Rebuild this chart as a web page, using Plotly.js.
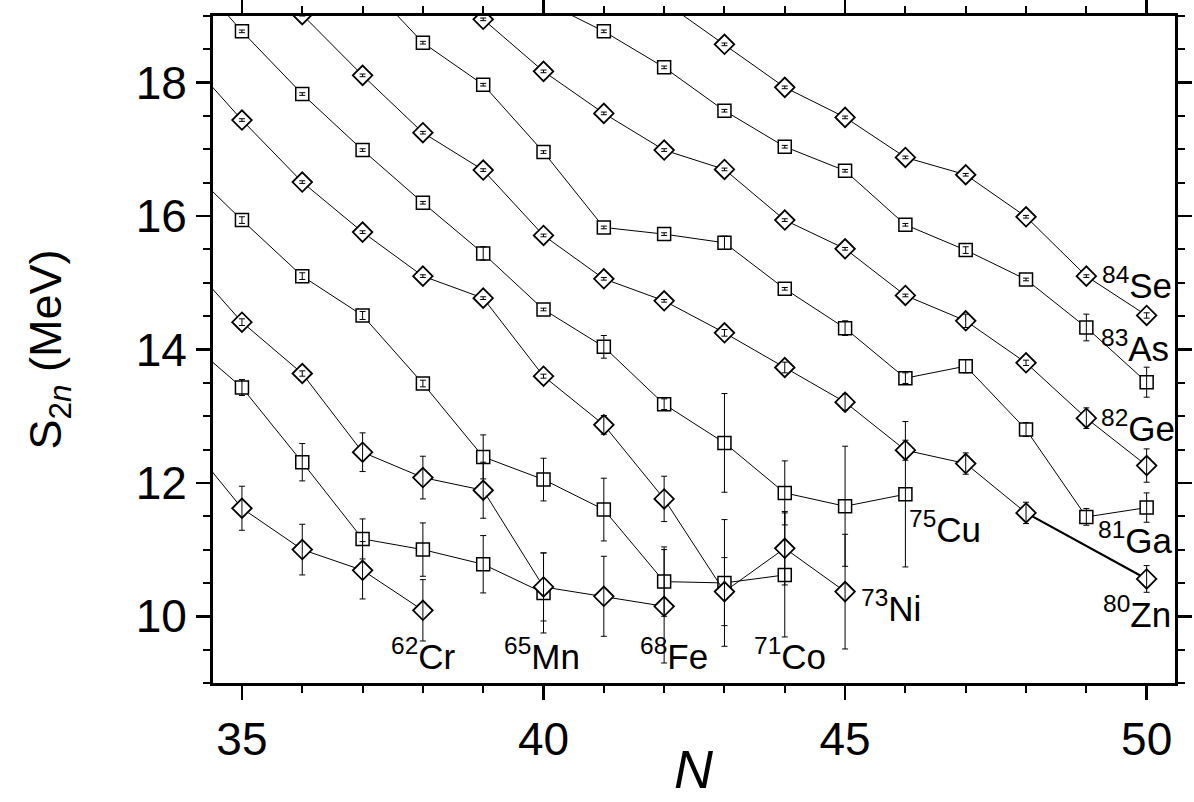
<!DOCTYPE html>
<html><head><meta charset="utf-8">
<script src="https://cdn.plot.ly/plotly-3.0.1.min.js"></script>
<style>html,body{margin:0;padding:0;background:#fff}#chart{width:1194px;height:802px}</style>
</head><body><div id="chart"></div>
<script>
// Two-neutron separation energies S2n (MeV) vs neutron number N, per isotopic chain
const CR_N   = [34, 35, 36, 37, 38];
const CR_S2N = [12.73, 11.62, 11.00, 10.69, 10.09];
const CR_ERR = [0, 0.33, 0.38, 0.43, 0.46];

const MN_N   = [34, 35, 36, 37, 38, 39, 40];
const MN_S2N = [14.21, 13.43, 12.31, 11.16, 11.00, 10.78, 10.35];
const MN_ERR = [0, 0.12, 0.28, 0.30, 0.40, 0.43, 0.60];

const FE_N   = [34, 35, 36, 37, 38, 39, 40, 41, 42];
const FE_S2N = [15.43, 14.41, 13.64, 12.46, 12.08, 11.89, 10.44, 10.30, 10.15];
const FE_ERR = [0, 0.05, 0.04, 0.29, 0.32, 0.42, 0.51, 0.60, 0.85];

const CO_N   = [34, 35, 36, 37, 38, 39, 40, 41, 42, 43, 44];
const CO_S2N = [16.82, 15.94, 15.10, 14.51, 13.49, 12.39, 12.05, 11.60, 10.52, 10.50, 10.62];
const CO_ERR = [0, 0.05, 0.05, 0.06, 0.05, 0.33, 0.32, 0.47, 0.52, 0.95, 0.93];

const NI_N   = [34, 35, 36, 37, 38, 39, 40, 41, 42, 43, 44, 45];
const NI_S2N = [18.45, 17.44, 16.51, 15.76, 15.10, 14.77, 13.60, 12.87, 11.76, 10.37, 11.02, 10.37];
const NI_ERR = [0, 0.02, 0.02, 0.02, 0.02, 0.02, 0.03, 0.14, 0.34, 0.51, 0.55, 0.86];

const CU_N   = [34, 35, 36, 37, 38, 39, 40, 41, 42, 43, 44, 45, 46];
const CU_S2N = [19.80, 18.77, 17.83, 16.99, 16.20, 15.44, 14.60, 14.04, 13.18, 12.60, 11.85, 11.65, 11.83];
const CU_ERR = [0, 0.02, 0.02, 0.02, 0.02, 0.10, 0.02, 0.17, 0.08, 0.74, 0.48, 0.90, 1.09];

const ZN_N   = [35, 36, 37, 38, 39, 40, 41, 42, 43, 44, 45, 46, 47, 48, 50];
const ZN_S2N = [20.00, 19.02, 18.11, 17.25, 16.69, 15.71, 15.06, 14.73, 14.25, 13.73, 13.21, 12.49, 12.29, 11.55, 10.56];
const ZN_ERR = [0, 0.02, 0.02, 0.02, 0.02, 0.02, 0.02, 0.02, 0.05, 0.08, 0.12, 0.15, 0.16, 0.16, 0.20];

const GA_N   = [37, 38, 39, 40, 41, 42, 43, 44, 45, 46, 47, 48, 49, 50];
const GA_S2N = [19.56, 18.60, 17.97, 16.96, 15.83, 15.73, 15.60, 14.91, 14.32, 13.57, 13.75, 12.80, 11.49, 11.63];
const GA_ERR = [0, 0.02, 0.02, 0.02, 0.02, 0.02, 0.10, 0.02, 0.11, 0.08, 0.10, 0.105, 0.125, 0.22];

const GE_N   = [38, 39, 40, 41, 42, 43, 44, 45, 46, 47, 48, 49, 50];
const GE_S2N = [19.80, 18.95, 18.17, 17.54, 16.99, 16.70, 15.94, 15.51, 14.81, 14.43, 13.80, 12.97, 12.26];
const GE_ERR = [0, 0.02, 0.02, 0.02, 0.02, 0.02, 0.02, 0.02, 0.02, 0.10, 0.04, 0.155, 0.25];

const AS_N   = [40, 41, 42, 43, 44, 45, 46, 47, 48, 49, 50];
const AS_S2N = [19.22, 18.77, 18.23, 17.58, 17.04, 16.68, 15.87, 15.49, 15.05, 14.33, 13.51];
const AS_ERR = [0, 0.02, 0.02, 0.02, 0.02, 0.02, 0.02, 0.05, 0.02, 0.20, 0.225];

const SE_N   = [42, 43, 44, 45, 46, 47, 48, 49, 50];
const SE_S2N = [19.21, 18.575, 17.93, 17.48, 16.88, 16.62, 15.99, 15.10, 14.51];
const SE_ERR = [0, 0.02, 0.02, 0.02, 0.02, 0.02, 0.02, 0.02, 0.04];

// Chain-end labels
const LABEL_TEXT = ['<sup>62</sup>Cr','<sup>65</sup>Mn','<sup>68</sup>Fe','<sup>71</sup>Co','<sup>73</sup>Ni','<sup>75</sup>Cu',
                    '<sup>80</sup>Zn','<sup>81</sup>Ga','<sup>82</sup>Ge','<sup>83</sup>As','<sup>84</sup>Se'];
const LABEL_N    = [38.01, 39.97, 42.17, 44.09, 45.76, 46.66, 49.84, 49.81, 49.86, 49.81, 49.84];
const LABEL_S2N  = [9.43, 9.43, 9.43, 9.43, 10.16, 11.34, 10.06, 11.18, 12.86, 14.06, 15.00];

const FONT = 'Liberation Sans, Arial, Helvetica, sans-serif';

const CHAINS = [
  [CR_N, CR_S2N, CR_ERR, 'diamond'],
  [MN_N, MN_S2N, MN_ERR, 'square'],
  [FE_N, FE_S2N, FE_ERR, 'diamond'],
  [CO_N, CO_S2N, CO_ERR, 'square'],
  [NI_N, NI_S2N, NI_ERR, 'diamond'],
  [CU_N, CU_S2N, CU_ERR, 'square'],
  [ZN_N, ZN_S2N, ZN_ERR, 'diamond'],
  [GA_N, GA_S2N, GA_ERR, 'square'],
  [GE_N, GE_S2N, GE_ERR, 'diamond'],
  [AS_N, AS_S2N, AS_ERR, 'square'],
  [SE_N, SE_S2N, SE_ERR, 'diamond']
];

function chain(x, y, symbol) {
  const isDiamond = symbol === 'diamond';
  return {
    x: x, y: y, type: 'scatter', mode: 'lines+markers', showlegend: false,
    line: {color: '#000', width: 1},
    marker: {symbol: symbol, size: isDiamond ? 15 : 13, color: '#fff',
             line: {color: '#000', width: isDiamond ? 1.8 : 1.5}},
    cliponaxis: true
  };
}
// error bars drawn on top of the open markers
function errs(x, y, err) {
  return {
    x: x, y: y, type: 'scatter', mode: 'markers', showlegend: false, hoverinfo: 'skip',
    marker: {size: 1, color: 'rgba(0,0,0,0)'},
    error_y: {type: 'data', array: err, visible: true, color: '#000', thickness: 1, width: 3},
    cliponaxis: true
  };
}

const data = [
  // thicker connecting segment of the Zn chain between its last two points
  {x: ZN_N.slice(-2), y: ZN_S2N.slice(-2), type: 'scatter', mode: 'lines', showlegend: false,
   line: {color: '#000', width: 2.2}, hoverinfo: 'skip'}
].concat(CHAINS.map(c => chain(c[0], c[1], c[3])))
 .concat(CHAINS.map(c => errs(c[0], c[1], c[2])));

const annotations = LABEL_TEXT.map((t, i) => ({
  x: LABEL_N[i], y: LABEL_S2N[i], xref: 'x', yref: 'y', text: t, showarrow: false,
  xanchor: 'center', yanchor: 'middle', font: {family: FONT, size: 35, color: '#000'}
}));
// x-axis title, placed as a paper annotation so it can sit low in the bottom margin
annotations.push({
  x: 0.5, y: -0.177, xref: 'paper', yref: 'paper', text: '<i>N</i>', showarrow: false,
  xanchor: 'center', yanchor: 'bottom', font: {family: FONT, size: 54, color: '#000'}
});

const axisCommon = {
  showgrid: false, zeroline: false, showline: true, linecolor: '#000', linewidth: 3,
  mirror: 'ticks', ticks: 'outside', ticklen: 14, tickwidth: 2.5, tickcolor: '#000',
  tickfont: {family: FONT, size: 46, color: '#000'}
};

const layout = {
  width: 1194, height: 802,
  margin: {l: 213, r: 19, t: 16, b: 119},
  paper_bgcolor: '#fff', plot_bgcolor: '#fff',
  font: {family: FONT, color: '#000'},
  showlegend: false,
  xaxis: Object.assign({}, axisCommon, {
    range: [34.52, 50.47], tick0: 0, dtick: 5,
    minor: {dtick: 1, ticks: 'outside', ticklen: 7, tickwidth: 2, tickcolor: '#000', showgrid: false}
  }),
  yaxis: Object.assign({}, axisCommon, {
    range: [9, 19], tick0: 0, dtick: 2,
    minor: {dtick: 0.5, ticks: 'outside', ticklen: 7, tickwidth: 2, tickcolor: '#000', showgrid: false},
    title: {text: 'S<sub>2<i>n</i></sub> (MeV)', font: {family: FONT, size: 45, color: '#000'}, standoff: 60}
  }),
  annotations: annotations
};

Plotly.newPlot('chart', data, layout, {displayModeBar: false, staticPlot: true});
</script>
</body></html>
